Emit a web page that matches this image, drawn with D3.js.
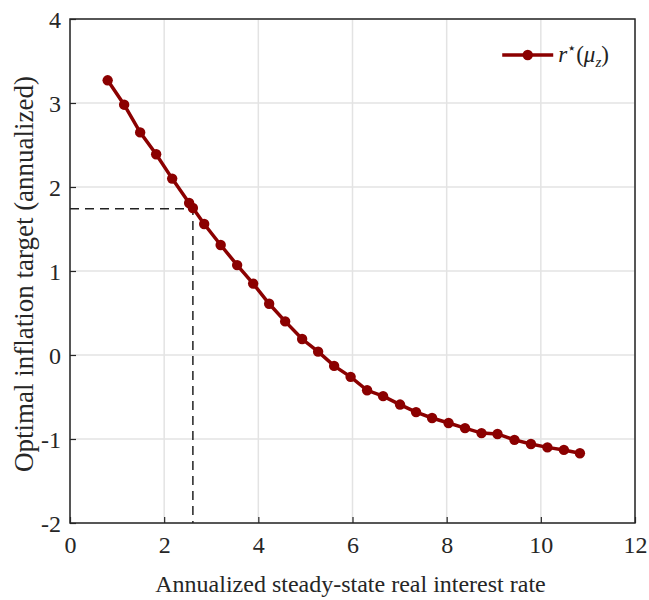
<!DOCTYPE html>
<html>
<head>
<meta charset="utf-8">
<script src="https://cdn.jsdelivr.net/npm/d3@7"></script>
<style>
  body { margin: 0; background: #fff; }
  text { font-family: "Liberation Serif", "DejaVu Serif", serif; }
</style>
</head>
<body>
<div id="chart"></div>
<script>
// real interest rate (x) and optimal inflation target (y)
var rates = [0.80, 1.15, 1.49, 1.83, 2.17, 2.53, 2.61, 2.85, 3.20, 3.55, 3.89, 4.23, 4.57, 4.93, 5.27,
             5.61, 5.96, 6.31, 6.65, 7.01, 7.35, 7.69, 8.04, 8.39, 8.74, 9.08, 9.44, 9.79, 10.14, 10.49, 10.83];
var targets = [3.27, 2.98, 2.65, 2.39, 2.10, 1.81, 1.75, 1.56, 1.31, 1.07, 0.85, 0.61, 0.40, 0.19, 0.04,
               -0.13, -0.26, -0.42, -0.49, -0.59, -0.68, -0.75, -0.81, -0.87, -0.93, -0.94, -1.01, -1.06, -1.10, -1.13, -1.17];
var xTicks = [0, 2, 4, 6, 8, 10, 12];
var yTicks = [-2, -1, 0, 1, 2, 3, 4];
// point marked by the dashed guide lines
var marked = { x: 2.61, y: 1.74 };

var width = 649, height = 600;
var margin = { top: 19, right: 14, bottom: 77, left: 70 };
var w = width - margin.left - margin.right;
var h = height - margin.top - margin.bottom;
var red = "#8b0000";

var svg = d3.select("#chart").append("svg")
    .attr("width", width)
    .attr("height", height);
var g = svg.append("g").attr("transform", "translate(" + margin.left + "," + margin.top + ")");

var x = d3.scaleLinear().domain([0, 12]).range([0, w]);
var y = d3.scaleLinear().domain([-2, 4]).range([h, 0]);

// グリッド
g.selectAll(".vgrid").data(xTicks).enter().append("line")
    .attr("x1", function(d) { return x(d); }).attr("x2", function(d) { return x(d); })
    .attr("y1", 0).attr("y2", h)
    .attr("stroke", "#e3e3e3").attr("stroke-width", 1.5);
g.selectAll(".hgrid").data(yTicks).enter().append("line")
    .attr("y1", function(d) { return y(d); }).attr("y2", function(d) { return y(d); })
    .attr("x1", 0).attr("x2", w)
    .attr("stroke", "#e3e3e3").attr("stroke-width", 1.5);

// dashed guides
g.append("path")
    .attr("d", "M" + x(0) + "," + y(marked.y) + "H" + x(marked.x) + "V" + y(-2))
    .attr("fill", "none")
    .attr("stroke", "#222")
    .attr("stroke-width", 1.5)
    .attr("stroke-dasharray", "9,6");

// axes (plain hyphen for negatives, like the original)
var fmt = function(d) { return String(d); };
var xAxis = d3.axisBottom(x).tickValues(xTicks).tickSize(-6).tickPadding(13).tickFormat(fmt);
var yAxis = d3.axisLeft(y).tickValues(yTicks).tickSize(-6).tickPadding(9).tickFormat(fmt);

var gx = g.append("g").attr("transform", "translate(0," + h + ")").call(xAxis);
var gy = g.append("g").call(yAxis);
[gx, gy].forEach(function(a) {
    a.select(".domain").remove();
    a.selectAll("line").attr("stroke", "#262626").attr("stroke-width", 1.2);
    a.selectAll("text")
        .attr("fill", "#262626")
        .style("font-size", "24px")
        .style("font-family", "'Liberation Serif', serif");
});
gy.selectAll("text").attr("dy", "0.36em");

// box
g.append("rect")
    .attr("width", w).attr("height", h)
    .attr("fill", "none")
    .attr("stroke", "#262626")
    .attr("stroke-width", 1.5);

// line + markers
var pts = rates.map(function(r, i) { return [r, targets[i]]; });
var line = d3.line()
    .x(function(d) { return x(d[0]); })
    .y(function(d) { return y(d[1]); });

g.append("path")
    .datum(pts)
    .attr("d", line)
    .attr("fill", "none")
    .attr("stroke", red)
    .attr("stroke-width", 3.5);

g.selectAll(".dot").data(pts).enter().append("circle")
    .attr("cx", function(d) { return x(d[0]); })
    .attr("cy", function(d) { return y(d[1]); })
    .attr("r", 5.2)
    .attr("fill", red);

// legend
var lg = g.append("g").attr("transform", "translate(" + (x(9.18)) + "," + 36 + ")");
lg.append("line").attr("x1", 0).attr("x2", 51).attr("y1", 0).attr("y2", 0)
    .attr("stroke", red).attr("stroke-width", 3.5);
lg.append("circle").attr("cx", 25.5).attr("cy", 0).attr("r", 5.2).attr("fill", red);
var lt = lg.append("text").attr("x", 56).attr("y", 7)
    .style("font-size", "23px").style("font-style", "italic").attr("fill", "#222");
lt.append("tspan").text("r");
lt.append("tspan").attr("dy", -9).style("font-size", "15px").style("font-style", "normal").text("⋆");
lt.append("tspan").attr("dy", 9).style("font-style", "normal").text("(");
lt.append("tspan").text("μ");
lt.append("tspan").attr("dy", 5).style("font-size", "15px").text("z");
lt.append("tspan").attr("dy", -5).style("font-style", "normal").text(")");

// axis labels
svg.append("text")
    .attr("x", margin.left + w / 2 - 2)
    .attr("y", 592)
    .attr("text-anchor", "middle")
    .attr("fill", "#262626")
    .style("font-size", "24px")
    .text("Annualized steady-state real interest rate");

svg.append("text")
    .attr("transform", "translate(33," + 274 + ") rotate(-90)")
    .attr("text-anchor", "middle")
    .attr("fill", "#262626")
    .style("font-size", "27px")
    .text("Optimal inflation target (annualized)");
</script>
</body>
</html>
